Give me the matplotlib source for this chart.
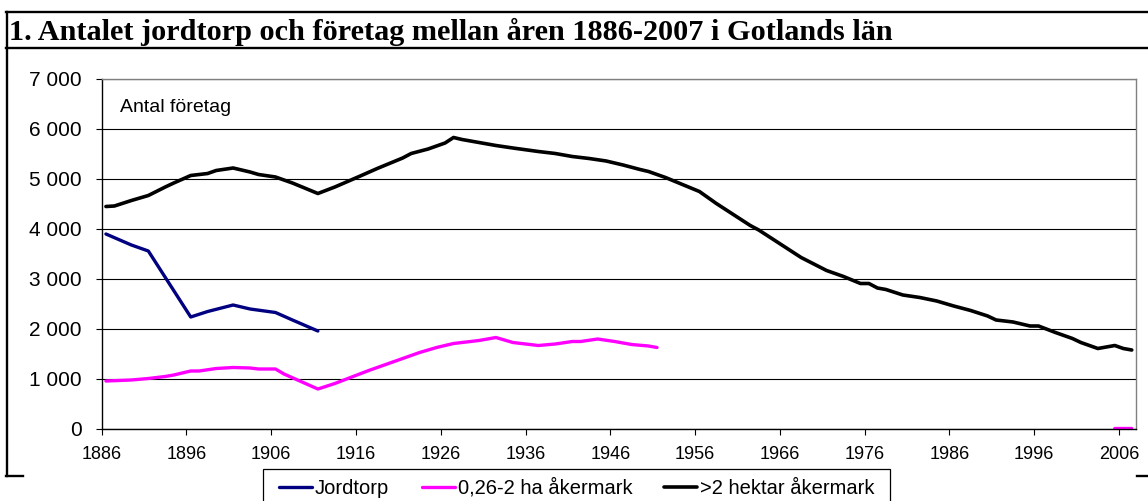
import numpy as np
import matplotlib
matplotlib.use("Agg")
import matplotlib.pyplot as plt
from matplotlib.ticker import FuncFormatter
from matplotlib.lines import Line2D
from matplotlib.patches import Rectangle

plt.rcParams['font.family'] = ['Liberation Sans', 'DejaVu Sans']

# ---------------- data ----------------
title = "1. Antalet jordtorp och företag mellan åren 1886-2007 i Gotlands län"
series_names = ["Jordtorp", "0,26-2 ha åkermark", ">2 hektar åkermark"]

jord_years = [1886, 1889, 1891, 1896, 1898, 1901, 1903, 1906, 1908, 1911]
jord_vals = [3900, 3680, 3560, 2240, 2350, 2480, 2400, 2330, 2180, 1960]

small_years = [1886, 1889, 1891, 1893, 1894, 1896, 1897, 1899, 1901, 1903, 1904,
               1906, 1907, 1911, 1913, 1915, 1917, 1919, 1921, 1923, 1925, 1927,
               1930, 1932, 1934, 1937, 1939, 1941, 1942, 1944, 1946, 1948, 1950,
               1951, 1952, 2004, 2005, 2006, 2007]
small_vals = [960, 980, 1010, 1050, 1080, 1160, 1160, 1210, 1230, 1220, 1200,
              1200, 1100, 800, 910, 1040, 1170, 1290, 1410, 1530, 1630, 1710,
              1770, 1830, 1730, 1670, 1700, 1750, 1750, 1800, 1750, 1690, 1660,
              1630, np.nan, np.nan, 10, 10, 10]

big_years = [1886, 1887, 1889, 1891, 1893, 1894, 1896, 1898, 1899, 1901, 1903,
             1904, 1906, 1908, 1911, 1913, 1916, 1918, 1919, 1921, 1922, 1924,
             1926, 1927, 1928, 1930, 1932, 1934, 1937, 1939, 1941, 1943, 1945,
             1947, 1949, 1950, 1952, 1954, 1956, 1958, 1960, 1962, 1963, 1965,
             1967, 1968, 1971, 1973, 1975, 1976, 1977, 1978, 1980, 1982, 1984,
             1986, 1988, 1990, 1991, 1993, 1995, 1996, 1998, 2000, 2001, 2003,
             2005, 2006, 2007]
big_vals = [4450, 4460, 4570, 4670, 4840, 4920, 5070, 5110, 5170, 5220, 5140,
            5090, 5040, 4920, 4710, 4840, 5060, 5210, 5280, 5420, 5510, 5600,
            5720, 5830, 5790, 5730, 5670, 5620, 5550, 5510, 5450, 5410, 5360,
            5280, 5190, 5150, 5030, 4890, 4750, 4510, 4290, 4070, 3980, 3760,
            3540, 3430, 3170, 3050, 2910, 2910, 2820, 2790, 2680, 2630, 2560,
            2460, 2370, 2260, 2180, 2140, 2060, 2060, 1930, 1810, 1730, 1610,
            1670, 1610, 1580]

xtick_years = [1886, 1896, 1906, 1916, 1926, 1936, 1946, 1956, 1966, 1976, 1986, 1996, 2006]
y_ticks = [0, 1000, 2000, 3000, 4000, 5000, 6000, 7000]
y_label_text = "Antal företag"

colors = ["#000080", "#FF00FF", "#000000"]

# ---------------- figure ----------------
W, H = 1148, 501
fig = plt.figure(figsize=(W / 100, H / 100), dpi=100)
fig.patch.set_facecolor("white")

def fx(px):
    return px / W

def fy(py):
    return 1 - py / H

# outer frame lines (figure coordinates)
fig.add_artist(Line2D([fx(6), 1.0], [fy(12), fy(12)], color="black", lw=1.7))
fig.add_artist(Line2D([fx(6), 1.0], [fy(48), fy(48)], color="black", lw=1.7))
fig.add_artist(Line2D([fx(7), fx(7)], [fy(12), fy(476)], color="black", lw=1.7))
fig.add_artist(Line2D([fx(6), fx(23)], [fy(476), fy(476)], color="black", lw=1.7))
fig.add_artist(Line2D([fx(1137), 1.0], [fy(476), fy(476)], color="black", lw=1.7))

fig.text(fx(9), fy(40), title, family="Liberation Serif", weight="bold",
         fontsize=21.8, ha="left", va="baseline")

left, right, top, bottom = 101.7, 1136, 79, 429
ax = fig.add_axes([fx(left), fy(bottom), (right - left) / W, (bottom - top) / H])

ax.plot(np.array(jord_years) + 0.5, jord_vals, color=colors[0], lw=2.4,
        label=series_names[0], solid_joinstyle="round", solid_capstyle="round")
ax.plot(np.array(small_years) + 0.5, small_vals, color=colors[1], lw=2.4,
        label=series_names[1], solid_joinstyle="round", solid_capstyle="round")
ax.plot(np.array(big_years) + 0.5, big_vals, color=colors[2], lw=2.6,
        label=series_names[2], solid_joinstyle="round", solid_capstyle="round")

ax.set_xlim(1886, 2008)
ax.set_ylim(0, 7000)
ax.set_xticks(xtick_years)
ax.set_xticklabels([str(y) for y in xtick_years])
ax.set_yticks(y_ticks)
ax.yaxis.set_major_formatter(FuncFormatter(lambda v, p: f"{int(v):,}".replace(",", " ")))

ax.grid(axis="y", color="black", lw=0.8)
ax.set_axisbelow(True)
for s in ["top", "right"]:
    ax.spines[s].set_color("#808080")
    ax.spines[s].set_linewidth(1.0)
for s in ["left", "bottom"]:
    ax.spines[s].set_color("black")
    ax.spines[s].set_linewidth(1.0)

ax.tick_params(axis="y", direction="out", length=4.5, width=0.8, pad=10, labelsize=15)
ax.tick_params(axis="x", direction="out", length=4.5, width=0.8, pad=8, labelsize=13)

ax.text((120 - left) / (right - left), (bottom - 111.5) / (bottom - top), y_label_text,
        transform=ax.transAxes, fontsize=14, ha="left", va="baseline")

# legend box (frame drawn separately so it can run off the bottom edge)
fig.add_artist(Rectangle((fx(263), fy(510)), fx(890) - fx(263), fy(469) - fy(510),
                         facecolor="white", edgecolor="black", lw=0.9, zorder=4))
leg = fig.legend(loc="center left", bbox_to_anchor=(fx(279), fy(488)), ncol=3,
                 fontsize=14.5, frameon=False,
                 handlelength=1.64, handletextpad=0.15, columnspacing=1.6,
                 borderpad=0, borderaxespad=0)
leg.set_zorder(5)

fig.savefig("out.png", dpi=100, facecolor="white")
